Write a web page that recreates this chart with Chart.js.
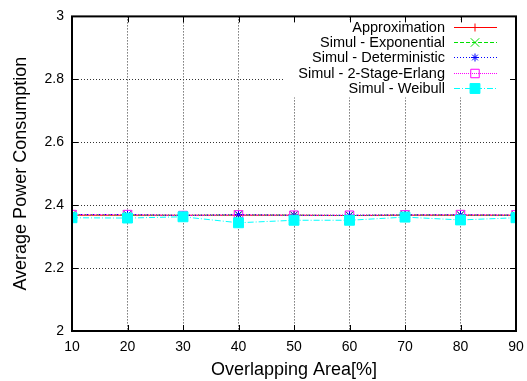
<!DOCTYPE html>
<html>
<head>
<meta charset="utf-8">
<script src="https://cdn.jsdelivr.net/npm/chart.js@4/dist/chart.umd.min.js"></script>
<style>
  html, body { margin: 0; padding: 0; background: #fff; }
  #wrap { width: 527px; height: 381px; }
</style>
</head>
<body>
<div id="wrap"><canvas id="chart" width="527" height="381"></canvas></div>
<script>
// data
const overlap = [10, 20, 30, 40, 50, 60, 70, 80, 90];
const approximation = [2.368, 2.368, 2.368, 2.368, 2.368, 2.367, 2.368, 2.368, 2.368];
const simulExponential = [2.370, 2.369, 2.367, 2.369, 2.368, 2.367, 2.369, 2.369, 2.368];
const simulDeterministic = [2.370, 2.370, 2.368, 2.370, 2.368, 2.368, 2.369, 2.369, 2.368];
const simulErlang = [2.370, 2.370, 2.367, 2.369, 2.368, 2.368, 2.369, 2.370, 2.369];
const simulWeibull = [2.360, 2.359, 2.363, 2.344, 2.352, 2.352, 2.362, 2.353, 2.360];
const yTicks = [2, 2.2, 2.4, 2.6, 2.8, 3];

const FONT = 'Liberation Sans, Arial, Helvetica, sans-serif';

function pts(values) {
    return overlap.map((x, i) => ({ x: x, y: values[i] }));
}

function series(label, values, color, dash, style, radius, fill, order) {
    return {
        label: label,
        data: pts(values),
        borderColor: color,
        borderWidth: 1,
        borderDash: dash,
        pointStyle: style,
        pointRadius: radius,
        pointBorderColor: color,
        pointBackgroundColor: fill,
        pointBorderWidth: 1,
        tension: 0,
        order: order
    };
}

// gnuplot style key: text right aligned, sample line after it, opaque box
const keyPlugin = {
    id: 'gnuKey',
    afterDatasetsDraw(chart) {
        const ctx = chart.ctx;
        const area = chart.chartArea;
        const lineX0 = 454, lineX1 = 497;
        const textX = 445;
        const top = 27;
        const step = 15.2;
        ctx.save();
        ctx.fillStyle = '#fff';
        ctx.fillRect(284, area.top + 3, 224, step * 5 + 2);
        ctx.font = '14.5px ' + FONT;
        ctx.textAlign = 'right';
        ctx.textBaseline = 'middle';
        chart.data.datasets.forEach((ds, i) => {
            const y = Math.round(top + i * step);
            ctx.fillStyle = '#000';
            ctx.fillText(ds.label, textX, y + 1);
            ctx.strokeStyle = ds.borderColor;
            ctx.lineWidth = 1;
            ctx.setLineDash(ds.borderDash);
            ctx.beginPath();
            ctx.moveTo(lineX0, y + 0.5);
            ctx.lineTo(lineX1, y + 0.5);
            ctx.stroke();
            ctx.setLineDash([]);
            if (Chart.helpers && Chart.helpers.drawPoint) {
                ctx.fillStyle = ds.pointBackgroundColor;
                ctx.strokeStyle = ds.pointBorderColor;
                Chart.helpers.drawPoint(ctx, {
                    pointStyle: ds.pointStyle,
                    radius: ds.pointRadius,
                    rotation: 0,
                    borderWidth: 1
                }, (lineX0 + lineX1) / 2 - 0.5, y + 0.5);
            }
        });
        ctx.restore();
    }
};

// frame and inward ticks on all four sides
const framePlugin = {
    id: 'frame',
    afterDraw(chart) {
        const ctx = chart.ctx;
        const a = chart.chartArea;
        const xs = chart.scales.x, ys = chart.scales.y;
        const len = 6;
        ctx.save();
        ctx.strokeStyle = '#000';
        ctx.lineWidth = 1;
        ctx.beginPath();
        overlap.forEach(v => {
            const px = Math.round(xs.getPixelForValue(v)) + 0.5;
            ctx.moveTo(px, a.bottom);
            ctx.lineTo(px, a.bottom - len);
            ctx.moveTo(px, a.top);
            ctx.lineTo(px, a.top + len);
        });
        yTicks.forEach(v => {
            const py = Math.round(ys.getPixelForValue(v)) + 0.5;
            ctx.moveTo(a.left, py);
            ctx.lineTo(a.left + len, py);
            ctx.moveTo(a.right, py);
            ctx.lineTo(a.right - len, py);
        });
        ctx.stroke();
        ctx.lineWidth = 2;
        ctx.strokeRect(a.left, a.top, a.right - a.left, a.bottom - a.top);
        ctx.restore();
    }
};

new Chart(document.getElementById('chart'), {
    type: 'line',
    data: {
        datasets: [
            series('Approximation', approximation, '#ff0000', [], 'cross', 4, '#ff0000', 5),
            series('Simul - Exponential', simulExponential, '#00e000', [4, 2], 'crossRot', 6, '#00e000', 4),
            series('Simul - Deterministic', simulDeterministic, '#0000ff', [1, 2], 'star', 4, '#0000ff', 3),
            series('Simul - 2-Stage-Erlang', simulErlang, '#ff00ff', [1, 1], 'rect', 6, 'rgba(0,0,0,0)', 2),
            series('Simul - Weibull', simulWeibull, '#00ffff', [6, 2, 1, 2], 'rect', 7, '#00ffff', 1)
        ]
    },
    options: {
        responsive: false,
        animation: false,
        devicePixelRatio: 1,
        layout: { padding: { top: 15, right: 11, left: 0, bottom: 0 } },
        plugins: {
            legend: { display: false },
            tooltip: { enabled: false }
        },
        scales: {
            x: {
                type: 'linear',
                min: 10,
                max: 90,
                afterBuildTicks: s => { s.ticks = overlap.map(v => ({ value: v })); },
                afterFit: s => { s.height = 50; s.paddingLeft = 0; s.paddingRight = 0; },
                grid: { color: '#333', drawTicks: false },
                border: { display: false, dash: [1, 2] },
                ticks: {
                    padding: 8,
                    color: '#000',
                    font: { family: FONT, size: 14 },
                    maxRotation: 0
                },
                title: {
                    display: true,
                    text: 'Overlapping Area[%]',
                    color: '#000',
                    font: { family: FONT, size: 18 },
                    padding: { top: 2, bottom: 0 }
                }
            },
            y: {
                min: 2,
                max: 3,
                afterBuildTicks: s => { s.ticks = yTicks.map(v => ({ value: v })); },
                afterFit: s => { s.width = 72; },
                grid: { color: '#333', drawTicks: false },
                border: { display: false, dash: [1, 2] },
                ticks: {
                    padding: 8,
                    color: '#000',
                    font: { family: FONT, size: 14 },
                    callback: v => String(Math.round(v * 10) / 10)
                },
                title: {
                    display: true,
                    text: 'Average Power Consumption',
                    color: '#000',
                    font: { family: FONT, size: 18 },
                    padding: { top: 10, bottom: 0 }
                }
            }
        }
    },
    plugins: [keyPlugin, framePlugin]
});
</script>
</body>
</html>
